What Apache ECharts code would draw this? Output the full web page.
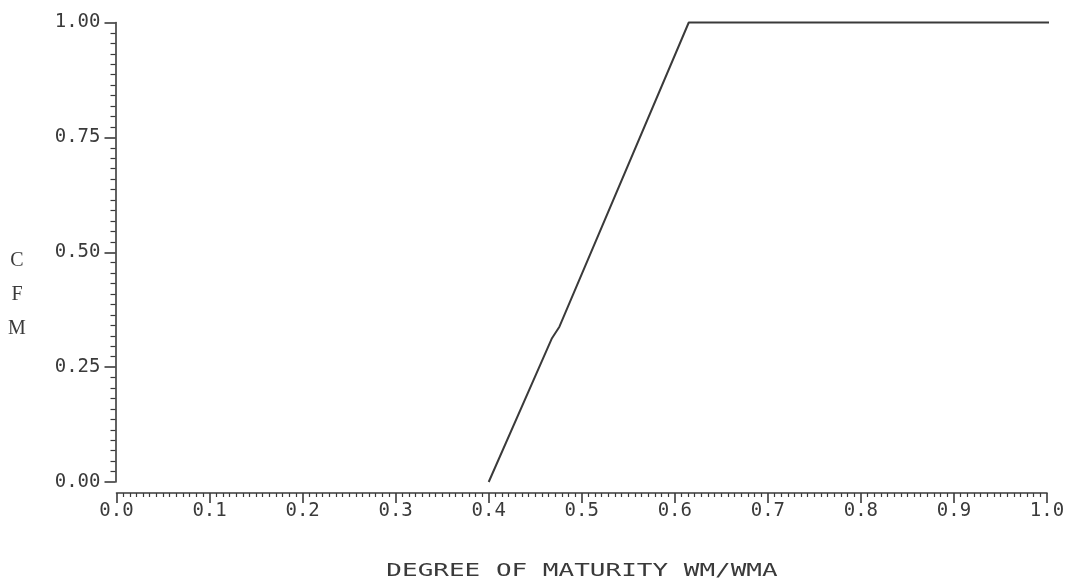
<!DOCTYPE html>
<html>
<head>
<meta charset="utf-8">
<script src="https://cdn.jsdelivr.net/npm/echarts@6/dist/echarts.min.js"></script>
<style>
  html, body { margin: 0; padding: 0; background: #ffffff; }
  #chart { width: 1082px; height: 585px; }
</style>
</head>
<body>
<div id="chart"></div>
<script>
// Correction factor for maturity (CFM) as a function of degree of maturity WM/WMA
const maturity = [0.40, 0.468, 0.476, 0.615, 1.015];
const cfm      = [0.00, 0.313, 0.338, 1.00, 1.00];

// Axis tick labels
const xTickLabels = ['0.0', '0.1', '0.2', '0.3', '0.4', '0.5', '0.6', '0.7', '0.8', '0.9', '1.0'];
const yTickLabels = ['0.00', '0.25', '0.50', '0.75', '1.00'];

const xTitle = 'DEGREE OF MATURITY WM/WMA';
const yTitle = 'C\nF\nM';

const ink = '#3a3a3a';
const monoFont = '"DejaVu Sans Mono", "Liberation Mono", monospace';

const chart = echarts.init(document.getElementById('chart'), null, { renderer: 'canvas' });

chart.setOption({
  backgroundColor: '#ffffff',
  animation: false,
  grid: { left: 116.5, right: 35, top: 22.5, bottom: 103 },
  xAxis: {
    type: 'value',
    min: 0,
    max: 1,
    interval: 0.1,
    offset: 11,
    axisLine: { show: true, onZero: false, lineStyle: { color: ink, width: 1.6 } },
    axisTick: { show: true, length: 10, lineStyle: { color: ink, width: 1.6 } },
    minorTick: { show: true, splitNumber: 14, length: 4, lineStyle: { color: ink, width: 1.2 } },
    splitLine: { show: false },
    minorSplitLine: { show: false },
    axisLabel: {
      margin: 9,
      color: ink,
      fontFamily: monoFont,
      fontSize: 19,
      formatter: v => xTickLabels[Math.round(v * 10)]
    }
  },
  yAxis: {
    type: 'value',
    min: 0,
    max: 1,
    interval: 0.25,
    offset: 1,
    axisLine: { show: true, onZero: false, lineStyle: { color: ink, width: 1.6 } },
    axisTick: { show: true, length: 11, lineStyle: { color: ink, width: 1.6 } },
    minorTick: { show: true, splitNumber: 11, length: 5, lineStyle: { color: ink, width: 1.2 } },
    splitLine: { show: false },
    minorSplitLine: { show: false },
    axisLabel: {
      margin: 15,
      color: ink,
      fontFamily: monoFont,
      fontSize: 19,
      padding: [3, 0, 0, 0],
      formatter: v => yTickLabels[Math.round(v * 4)]
    }
  },
  graphic: [
    {
      type: 'text',
      x: 582,
      y: 571,
      scaleX: 1.3,
      scaleY: 0.92,
      style: {
        text: xTitle,
        fill: ink,
        font: '20px ' + monoFont,
        textAlign: 'center',
        textVerticalAlign: 'middle'
      }
    },
    {
      type: 'text',
      x: 17,
      y: 295,
      style: {
        text: yTitle,
        fill: ink,
        font: '20px "Liberation Serif", "DejaVu Serif", serif',
        lineHeight: 34,
        textAlign: 'center',
        textVerticalAlign: 'middle'
      }
    }
  ],
  series: [
    {
      type: 'line',
      data: maturity.map((m, i) => [m, cfm[i]]),
      showSymbol: false,
      clip: false,
      lineStyle: { color: ink, width: 2 }
    }
  ]
});
</script>
</body>
</html>
